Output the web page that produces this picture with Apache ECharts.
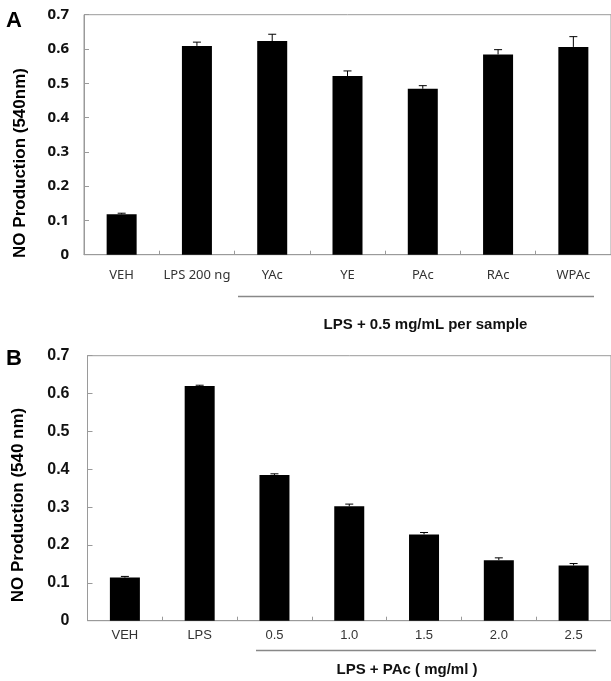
<!DOCTYPE html>
<html><head><meta charset="utf-8">
<script src="https://cdn.jsdelivr.net/npm/echarts@6/dist/echarts.min.js"></script>
<style>html,body{margin:0;padding:0;background:#fff}#c{width:611px;height:681px}</style>
</head><body><div id="c"></div>
<script>
var catsA = ['VEH','LPS 200 ng','YAc','YE','PAc','RAc','WPAc'];
var valsA = [0.118,0.609,0.623,0.521,0.484,0.584,0.606];
var errA  = [0.003,0.011,0.020,0.015,0.009,0.014,0.030];
var catsB = ['VEH','LPS','0.5','1.0','1.5','2.0','2.5'];
var valsB = [0.114,0.620,0.385,0.302,0.228,0.160,0.146];
var errB  = [0.003,0.002,0.003,0.006,0.005,0.006,0.005];
var yTicks = [0,0.1,0.2,0.3,0.4,0.5,0.6,0.7];

var chart = echarts.init(document.getElementById('c'), null, {renderer:'canvas'});
var gray = '#9a9a9a';

function errSeries(gi, vals, errs){
  return {
    type:'custom', xAxisIndex:gi, yAxisIndex:gi, z:5,
    data: vals.map(function(v,i){return [i, v, v+errs[i]];}),
    renderItem: function(params, api){
      var p0 = api.coord([api.value(0), api.value(1)]);
      var p1 = api.coord([api.value(0), api.value(2)]);
      return {type:'group', children:[
        {type:'line', shape:{x1:p0[0],y1:p0[1],x2:p1[0],y2:p1[1]}, style:{stroke:'#000',lineWidth:1}},
        {type:'line', shape:{x1:p1[0]-4,y1:p1[1],x2:p1[0]+4,y2:p1[1]}, style:{stroke:'#000',lineWidth:1}}
      ]};
    }
  };
}

function yAx(gi, font, size, margin){
  return {
    type:'value', gridIndex:gi, min:0, max:0.7, interval:0.1,
    axisLine:{show:true, lineStyle:{color:gray}},
    axisTick:{show:true, inside:true, length:5, lineStyle:{color:gray}},
    splitLine:{show:false},
    axisLabel:{margin:margin, color:'#111', fontWeight:'bold', fontSize:size, fontFamily:font,
      formatter:function(v){ var t = yTicks.indexOf(Math.round(v*10)/10); return t===0?'0':yTicks[t].toFixed(1); }}
  };
}
function xAx(gi, cats, font, margin){
  return {
    type:'category', gridIndex:gi, data:cats,
    axisLine:{show:true, lineStyle:{color:gray}},
    axisTick:{show:true, inside:true, length:4, lineStyle:{color:gray}},
    axisLabel:{interval:0, margin:margin, color:'#333', fontSize:13, fontFamily:font}
  };
}

chart.setOption({
  animation:false,
  backgroundColor:'#fff',
  grid:[
    {left:84, top:14.7, width:527, height:240, show:true, borderColor:gray, borderWidth:1},
    {left:87.5, top:355.7, width:527, height:265, show:true, borderColor:gray, borderWidth:1}
  ],
  xAxis:[xAx(0, catsA, 'Noto Sans', 14), xAx(1, catsB, 'Liberation Sans', 8)],
  yAxis:[yAx(0,'Noto Sans',15,15), yAx(1,'Liberation Sans',16,18)],
  series:[
    {type:'bar', xAxisIndex:0, yAxisIndex:0, data:valsA, barWidth:30, itemStyle:{color:'#000'}},
    errSeries(0, valsA, errA),
    {type:'bar', xAxisIndex:1, yAxisIndex:1, data:valsB, barWidth:30, itemStyle:{color:'#000'}},
    errSeries(1, valsB, errB)
  ],
  graphic:[
    {type:'text', left:6, top:10, style:{text:'A', font:'bold 22px "Liberation Sans"', fill:'#000'}},
    {type:'text', left:6, top:348, style:{text:'B', font:'bold 22px "Liberation Sans"', fill:'#000'}},
    {type:'text', x:20, y:163, rotation:Math.PI/2, style:{text:'NO Production (540nm)', font:'bold 17px "Liberation Sans"', fill:'#000', textAlign:'center', textVerticalAlign:'middle'}},
    {type:'text', x:18, y:505, rotation:Math.PI/2, style:{text:'NO Production (540 nm)', font:'bold 17px "Liberation Sans"', fill:'#000', textAlign:'center', textVerticalAlign:'middle'}},
    {type:'line', shape:{x1:238, y1:296.5, x2:594, y2:296.5}, style:{stroke:'#888', lineWidth:1.5}},
    {type:'line', shape:{x1:256, y1:650.5, x2:596, y2:650.5}, style:{stroke:'#888', lineWidth:1.5}},
    {type:'text', x:425.5, y:325, style:{text:'LPS + 0.5 mg/mL per sample', font:'bold 15px "Liberation Sans"', fill:'#111', textAlign:'center', textVerticalAlign:'middle'}},
    {type:'text', x:407, y:670, style:{text:'LPS + PAc ( mg/ml )', font:'bold 15px "Liberation Sans"', fill:'#111', textAlign:'center', textVerticalAlign:'middle'}}
  ]
});
</script></body></html>
